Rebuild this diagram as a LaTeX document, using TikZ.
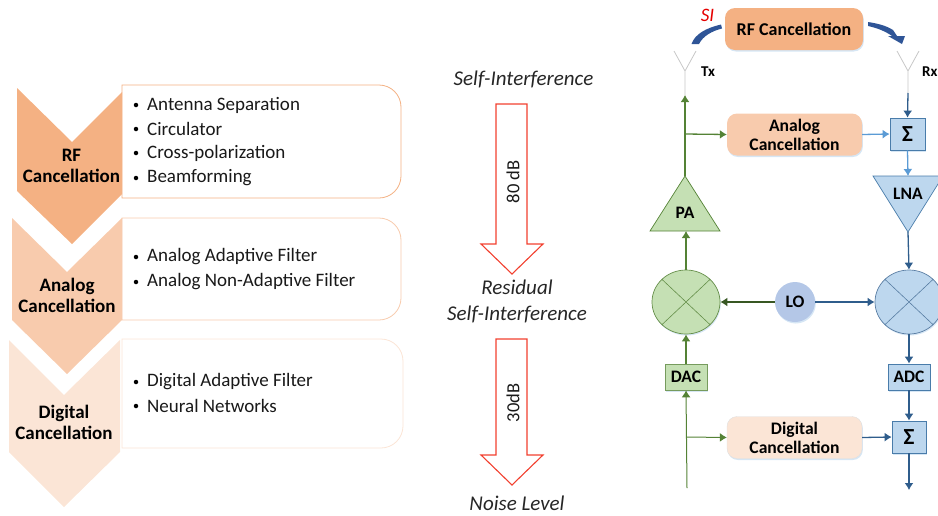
\documentclass[tikz,border=0pt]{standalone}
\usepackage{fontspec}
\setmainfont{Carlito}
\usetikzlibrary{shapes.geometric,shapes.misc,arrows.meta,shadows}
\definecolor{cA}{HTML}{F4B183}
\definecolor{cB}{HTML}{F8CBAD}
\definecolor{cC}{HTML}{FBE5D6}
\definecolor{gfill}{HTML}{C5E0B4}
\definecolor{gline}{HTML}{548235}
\definecolor{gdark}{HTML}{385723}
\definecolor{bfill}{HTML}{BDD7EE}
\definecolor{bline}{HTML}{2F5D8C}
\definecolor{blight}{HTML}{5B9BD5}
\definecolor{lofill}{HTML}{B4C7E7}
\definecolor{sishape}{HTML}{2F5597}
\definecolor{redarrow}{HTML}{F2402F}
\tikzset{
  x=1pt,y=-1pt,
  softshadow/.style={drop shadow={shadow xshift=0.8pt,shadow yshift=-1.5pt,fill=blight,opacity=0.25}},
  heading/.style={font=\fontsize{19}{21}\selectfont\bfseries,align=center,text=black},
  item/.style={font=\fontsize{19}{21}\selectfont,anchor=west,text=black!90,inner sep=0pt},
  itlabel/.style={font=\fontsize{21}{24}\selectfont\itshape,text=black!85},
  blockarrow/.style={draw=redarrow,line width=1.1pt,fill=white,line join=miter},
  rlabel/.style={font=\fontsize{18.5}{20}\selectfont,rotate=90,text=black!90},
  canc/.style={rectangle,rounded corners=10pt,minimum width=135pt,minimum height=42pt,inner sep=0pt,align=center,font=\fontsize{17.6}{19}\selectfont\bfseries,softshadow},
  blk/.style={rectangle,inner sep=0pt,font=\fontsize{17.5}{18}\selectfont\bfseries,softshadow},
  gblk/.style={blk,draw=gline!80,fill=gfill,line width=0.7pt},
  bblk/.style={blk,draw=blight!80!black,fill=bfill,line width=0.7pt},
  gw/.style={draw=gline,line width=1.3pt,-{Latex[length=7pt,width=9pt]}},
  gd/.style={draw=gdark,line width=1.3pt,-{Latex[length=7pt,width=9pt]}},
  bw/.style={draw=bline,line width=1.3pt,-{Latex[length=7pt,width=9pt]}},
  lw/.style={draw=blight,line width=1.3pt,-{Latex[length=7pt,width=9pt]}},
  ant/.style={draw=black!22,line width=0.8pt},
  bul/.style={circle,fill=black,inner sep=0pt,minimum size=4.5pt},
}
\begin{document}
\begin{tikzpicture}
\useasboundingbox (0,0) rectangle (938,515);
\begin{scope}
\clip (0,0) rectangle (938,515);
% ---------- left column: panels
\draw[cA,line width=0.8pt,fill=white] (122,198) -- (122,85) [rounded corners=22pt] -- (401,85) -- (401,198) [rounded corners=0pt] -- (380,198) -- (122,198) -- cycle;
\draw[cB,line width=0.8pt,fill=white] (122,320) -- (122,218) [rounded corners=22pt] -- (401,218) -- (401,320) [rounded corners=0pt] -- (380,320) -- (122,320) -- cycle;
\draw[cC,line width=0.8pt,fill=white] (122,448) -- (122,339) [rounded corners=22pt] -- (403,339) -- (403,448) [rounded corners=0pt] -- (380,448) -- (122,448) -- cycle;
% chevrons
\fill[cA] (17,88) -- (72,142) -- (122,92) -- (122,194) -- (72,244) -- (17,191) -- cycle;
\fill[cB] (12,218) -- (67,272) -- (122,218) -- (122,320) -- (67,374) -- (12,320) -- cycle;
\fill[cC] (9,340) -- (64,395) -- (120,340) -- (120,452) -- (64,507) -- (9,452) -- cycle;
\node[heading] (hrf) at (71.5,166) {RF\\Cancellation};
\node[heading] (han) at (67,295.5) {Analog\\Cancellation};
\node[heading] (hdi) at (64,422) {Digital\\Cancellation};
% items
\foreach \n/\y/\t in {a/105/Antenna Separation,b/129/Circulator,c/153/Cross-polarization,d/178/Beamforming,e/257/Analog Adaptive Filter,f/282/Analog Non-Adaptive Filter,g/382/Digital Adaptive Filter,h/406/Neural Networks}{
  \node[bul] (b\n) at (136,\y) {};
  \node[item] (t\n) at (147,\y) {\t};
}
% ---------- middle column
\path[blockarrow] (496,104) -- (527,104) -- (527,244) -- (543,244) -- (512,274) -- (481,244) -- (496,244) -- cycle;
\path[blockarrow] (496,339) -- (527,339) -- (527,455) -- (543,455) -- (512,485) -- (481,455) -- (496,455) -- cycle;
\node[rlabel] (l80) at (513,182) {80 dB};
\node[rlabel] (l30) at (513,403) {30dB};
\node[itlabel] (s1) at (523.5,79) {Self-Interference};
\node[itlabel] (s2) at (517,287.5) {Residual};
\node[itlabel] (s3) at (517,314) {Self-Interference};
\node[itlabel] (s4) at (517,503) {Noise Level};
% ---------- right column: nodes
\node[canc,fill=cA,minimum width=138pt,font=\fontsize{18}{19}\selectfont\bfseries] (rf) at (794,29) {RF Cancellation};
\node[canc,fill=cB] (an) at (794.5,134.5) {Analog\\Cancellation};
\node[canc,fill=cC,draw=black!12] (di) at (794.5,437.5) {Digital\\Cancellation};
\node[gblk,minimum width=42pt,minimum height=26pt] (dac) at (686,377) {DAC};
\node[bblk,minimum width=42pt,minimum height=26pt] (adc) at (909,377) {ADC};
\node[bblk,minimum width=35pt,minimum height=32pt,font=\fontsize{23}{24}\selectfont\bfseries] (s1b) at (907.5,134) {Σ};
\node[bblk,minimum width=34pt,minimum height=32pt,font=\fontsize{23}{24}\selectfont\bfseries] (s2b) at (909,437) {Σ};
\node[circle,fill=lofill,minimum size=40pt,inner sep=0pt,font=\fontsize{17.5}{18}\selectfont\bfseries,softshadow] (lo) at (795,302) {LO};
\node[ellipse,draw=gline!90,fill=gfill,line width=0.7pt,minimum width=68pt,minimum height=64pt,inner sep=0pt,softshadow] (mt) at (686,302) {};
\node[ellipse,draw=bline!80,fill=bfill,line width=0.7pt,minimum width=68pt,minimum height=64pt,inner sep=0pt,softshadow] (mr) at (909,302) {};
\draw[gline!90,line width=0.6pt] (mt.north west) -- (mt.south east) (mt.north east) -- (mt.south west);
\draw[bline!80,line width=0.6pt] (mr.north west) -- (mr.south east) (mr.north east) -- (mr.south west);
% triangles
\coordinate (paT) at (685,176);
\coordinate (paB) at (686,231);
\fill[gfill,draw=gline,line width=0.7pt] (paT) -- (720,231) -- (650,231) -- cycle;
\node[font=\fontsize{17.5}{18}\selectfont\bfseries] (pa) at (685,213) {PA};
\coordinate (lnaT) at (908,176);
\coordinate (lnaB) at (908,232);
\fill[bfill,draw=blight!80!black,line width=0.7pt] (873,176) -- (943,176) -- (lnaB) -- cycle;
\node[font=\fontsize{17.5}{18}\selectfont\bfseries] (lna) at (908,194) {LNA};
% antennas
\coordinate (txv) at (685,71);
\coordinate (txb) at (685,95);
\coordinate (rxv) at (908,71);
\coordinate (rxb) at (908,93);
\draw[ant] (674,51) -- (txv) -- (696,51) (txv) -- (txb);
\draw[ant] (897,51) -- (rxv) -- (919,51) (rxv) -- (rxb);
\node[font=\fontsize{15}{16}\selectfont\bfseries] (tx) at (708,71.5) {Tx};
\node[font=\fontsize{15}{16}\selectfont\bfseries,anchor=west,inner sep=0pt] (rx) at (922,71.5) {Rx};
\node[font=\fontsize{19}{20}\selectfont\itshape,text=red!90!black] (si) at (707.5,15) {SI};
% SI swooshes
\fill[sishape] (721,24.5) .. controls (706,28) and (695,34) .. (691.5,44) -- (699,44) .. controls (703,36) and (712,31) .. (722,28.5) -- cycle;
\fill[sishape] (868,22) .. controls (878,23.5) and (887,26) .. (893,30) -- (897,36) -- (905,36) -- (902,44) -- (888,36) -- (892,36) .. controls (885,31) and (877,28) .. (868,26) -- cycle;
% ---------- connectors
\coordinate (tap1) at (685,134);
\coordinate (tap2) at (686.5,437);
\coordinate (inb) at (687,488);
\coordinate (out) at (909,490);
\draw[gw] (paT) -- (txb);
\draw[gw] (tap1) -- (an.west);
\draw[lw] (an.east) -- (s1b.west);
\draw[bw] (rxb) -- (s1b.north);
\draw[lw] (s1b.south) -- (lnaT);
\draw[bw] (lnaB) -- (mr.north);
\draw[gw] (mt.north) -- (paB);
\draw[gd] (lo.west) -- (mt.east);
\draw[bw] (lo.east) -- (mr.west);
\draw[gw] (dac.north) -- (mt.south);
\draw[gw,line width=1pt] (inb) -- (dac.south);
\draw[gw,line width=1pt] (tap2) -- (di.west);
\draw[bw] (di.east) -- (s2b.west);
\draw[bw] (mr.south) -- (adc.north);
\draw[bw] (adc.south) -- (s2b.north);
\draw[bw] (s2b.south) -- (out);
\end{scope}
\end{tikzpicture}
\end{document}
